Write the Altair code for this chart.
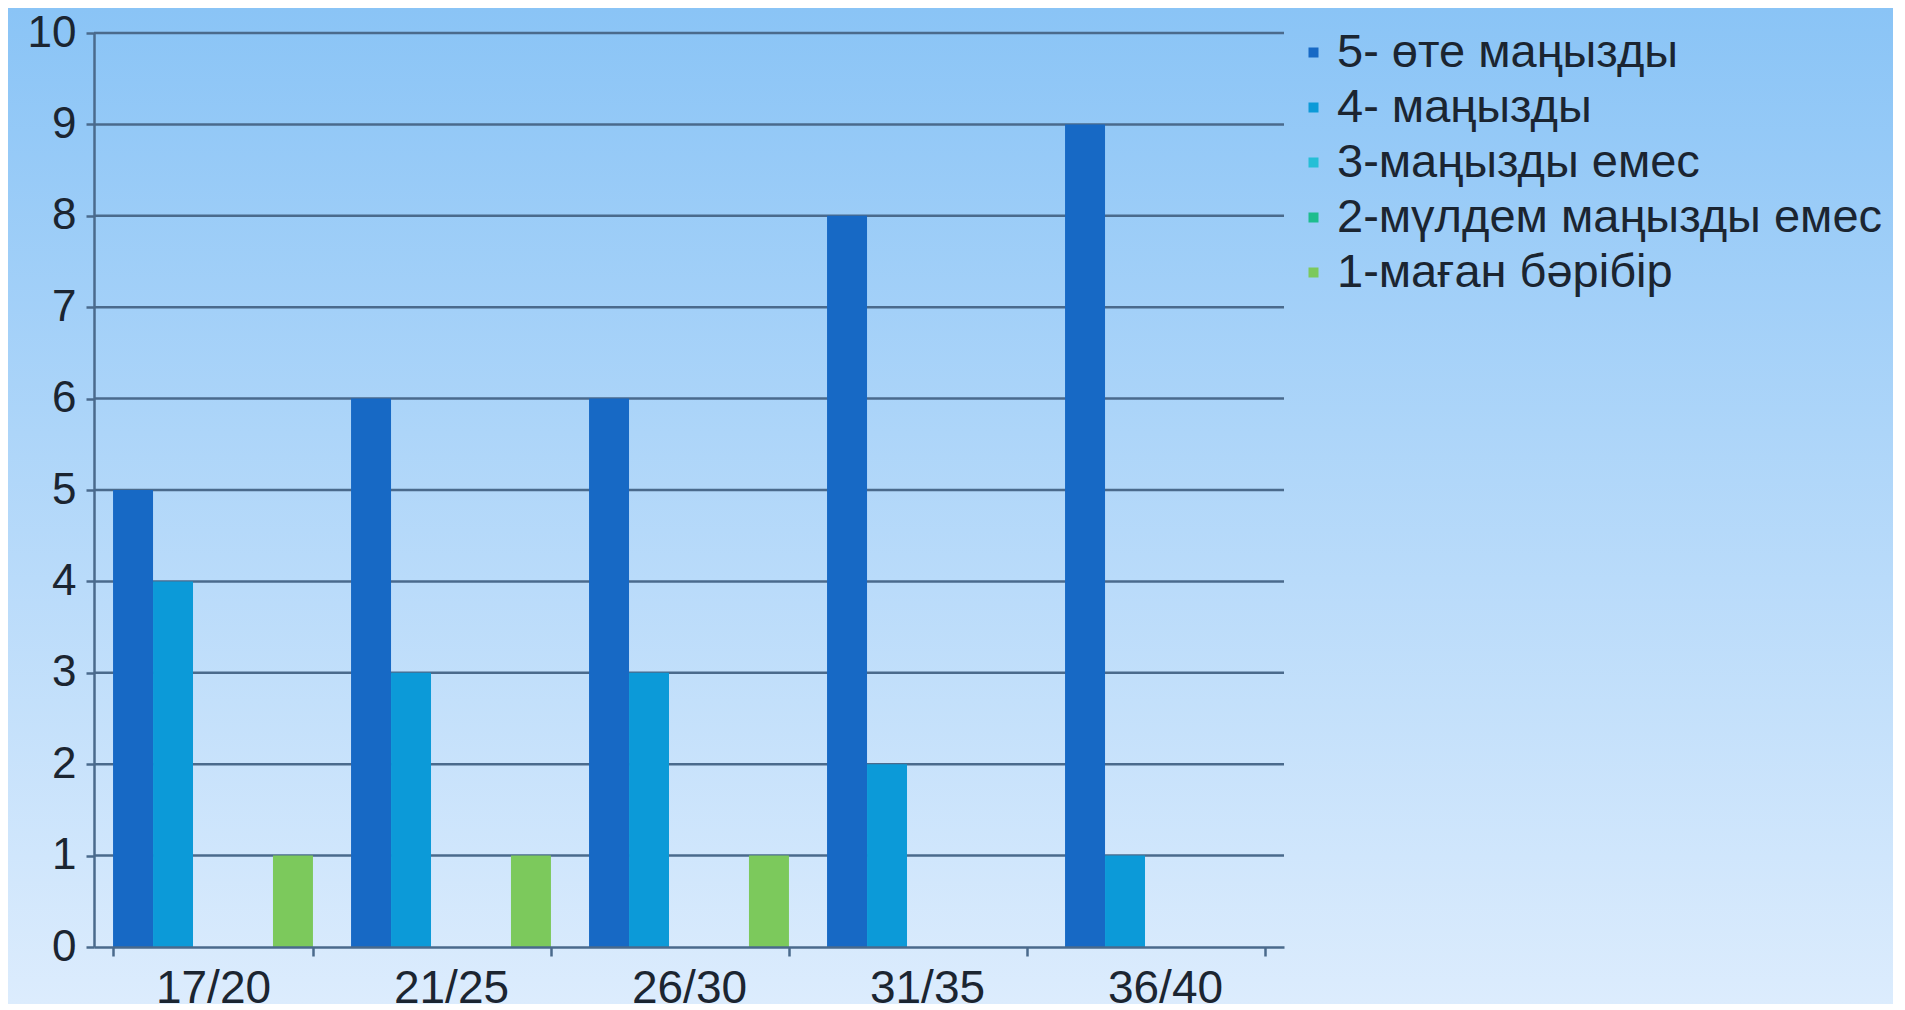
import altair as alt
import pandas as pd

categories = ["17/20", "21/25", "26/30", "31/35", "36/40"]
series = ["5- өте маңызды", "4- маңызды", "3-маңызды емес", "2-мүлдем маңызды емес", "1-маған бәрібір"]
vals_5 = [5, 6, 6, 8, 9]
vals_4 = [4, 3, 3, 2, 1]
vals_3 = [0, 0, 0, 0, 0]
vals_2 = [0, 0, 0, 0, 0]
vals_1 = [1, 1, 1, 0, 0]
colors = ["#1769c5", "#0c9ad8", "#25bfd6", "#1dbd8e", "#7cc95c"]
grid_values = [1, 2, 3, 4, 5, 6, 7, 8, 9, 10]

rows = []
for s, vals in zip(series, [vals_5, vals_4, vals_3, vals_2, vals_1]):
    for c, v in zip(categories, vals):
        rows.append({"cat": c, "series": s, "value": v})
df = pd.DataFrame(rows)

W, H = 1190, 914
PL, PT, PR, PB = 86, 25, 609, 57
FONT = "Liberation Sans"
TXT = "#1b2531"
LINE = "#4a6a8c"

bg = alt.Chart(pd.DataFrame({"a": [0]})).mark_rect(
    color=alt.LinearGradient(
        gradient="linear", x1=0, x2=0, y1=0, y2=1,
        stops=[alt.GradientStop(color="#8ac4f6", offset=0),
               alt.GradientStop(color="#dcecfd", offset=1)]
    )
).encode(
    x=alt.value(-PL), x2=alt.value(W + PR),
    y=alt.value(-PT), y2=alt.value(H + PB)
)

grid = alt.Chart(pd.DataFrame({"v": grid_values})).mark_rule(
    color=LINE, strokeWidth=2.5
).encode(
    y=alt.Y("v:Q", scale=alt.Scale(domain=[0, 10])),
    x=alt.value(0), x2=alt.value(W)
)

bars = alt.Chart(df).mark_bar(stroke=None).encode(
    x=alt.X("cat:N", sort=categories, title=None,
            scale=alt.Scale(paddingInner=0.16, paddingOuter=0.08),
            axis=alt.Axis(labelAngle=0, tickBand="extent", tickSize=9,
                          labelPadding=10, labelFontSize=46, labelFont=FONT,
                          labelColor=TXT, domainColor=LINE, tickColor=LINE,
                          domainWidth=2.5, tickWidth=2.5, zindex=1)),
    xOffset=alt.XOffset("series:N", sort=series, scale=alt.Scale(paddingInner=0, paddingOuter=0)),
    y=alt.Y("value:Q", scale=alt.Scale(domain=[0, 10]), title=None,
            axis=alt.Axis(values=grid_values + [0], format="d", grid=False, tickSize=8,
                          labelPadding=10, labelFontSize=44, labelFont=FONT,
                          labelColor=TXT, domainColor=LINE, tickColor=LINE,
                          domainWidth=2.5, tickWidth=2.5, zindex=1)),
    color=alt.Color("series:N", sort=series,
                    scale=alt.Scale(domain=series, range=colors),
                    legend=alt.Legend(title=None, orient="none", legendX=1189, legendY=-4,
                                      symbolType="square", symbolSize=100,
                                      symbolStrokeWidth=0, symbolOffset=7,
                                      labelFontSize=47,
                                      labelFont=FONT, labelColor=TXT,
                                      labelOffset=0, rowPadding=7, padding=0,
                                      labelLimit=800))
)

chart = alt.layer(bg, grid, bars).properties(
    width=W, height=H,
    padding={"left": PL, "top": PT, "right": PR, "bottom": PB},
    autosize=alt.AutoSizeParams(type="none")
).configure_view(stroke=None).configure(background="white")

chart.save("out.html", embed_options={"renderer": "svg", "actions": False})
